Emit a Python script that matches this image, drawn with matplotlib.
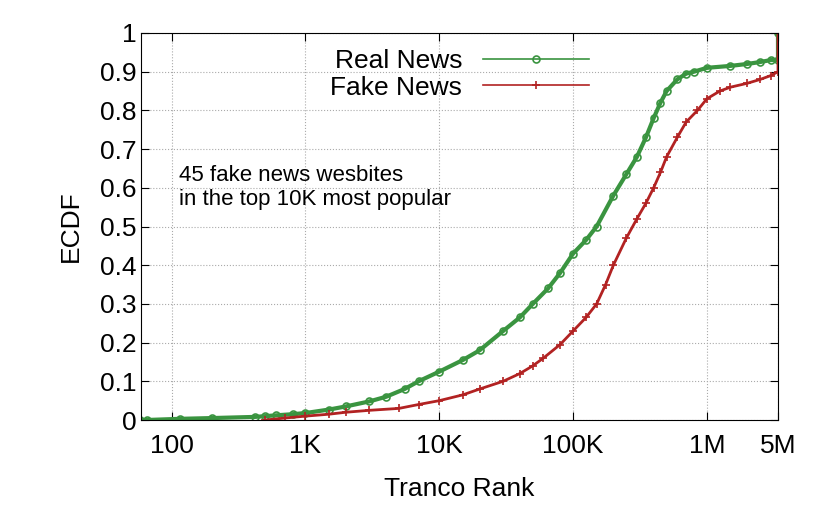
import matplotlib
matplotlib.use("Agg")
import matplotlib.pyplot as plt

plt.rcParams['font.family'] = ['Liberation Sans', 'DejaVu Sans']

real_x = [58, 65, 115, 200, 420, 500, 600, 800, 1000, 1500, 2000, 3000, 4000, 5500, 7000, 10000, 15000, 20000, 30000, 40000, 50000, 65000, 80000, 100000, 125000, 150000, 200000, 250000, 300000, 350000, 400000, 450000, 500000, 600000, 700000, 800000, 1000000, 1500000, 2000000, 2500000, 3000000, 3400000, 3400000]
real_y = [0, 0, 0.003, 0.005, 0.008, 0.01, 0.012, 0.015, 0.018, 0.027, 0.035, 0.048, 0.06, 0.08, 0.1, 0.125, 0.155, 0.18, 0.23, 0.265, 0.3, 0.34, 0.38, 0.43, 0.465, 0.5, 0.58, 0.635, 0.68, 0.73, 0.78, 0.82, 0.85, 0.88, 0.895, 0.9, 0.91, 0.915, 0.92, 0.925, 0.93, 0.93, 1.0]
fake_x = [500, 700, 1000, 1500, 2000, 3000, 5000, 7000, 10000, 15000, 20000, 30000, 40000, 50000, 60000, 80000, 100000, 125000, 150000, 175000, 200000, 250000, 300000, 350000, 400000, 450000, 500000, 600000, 700000, 850000, 1000000, 1250000, 1500000, 2000000, 2500000, 3000000, 3400000, 3400000]
fake_y = [0, 0.005, 0.01, 0.015, 0.02, 0.025, 0.03, 0.04, 0.05, 0.065, 0.08, 0.1, 0.12, 0.14, 0.16, 0.195, 0.23, 0.265, 0.3, 0.35, 0.4, 0.47, 0.52, 0.56, 0.6, 0.64, 0.68, 0.73, 0.77, 0.8, 0.83, 0.85, 0.86, 0.87, 0.88, 0.89, 0.9, 1.0]

green = "#3a9440"
red = "#b22222"

fig = plt.figure(figsize=(8.3, 5.19), dpi=100)
ax = fig.add_axes([141/830, 1-420/519, (778-141)/830, (420-33)/519])
ax.plot(real_x, real_y, color=green, lw=3, marker='o', mfc='none', ms=5, mew=1.2, label="Real News")
ax.plot(fake_x, fake_y, color=red, lw=2, marker='+', ms=6, mew=1.2, label="Fake News")
ax.set_xscale('log')
ax.set_xlim(59, 3.4e6)
ax.set_ylim(0, 1)
ax.set_xticks([100, 1000, 10000, 100000, 1000000, 3.4e6])
ax.set_xticklabels(["100", "1K", "10K", "100K", "1M", "5M"])
ax.xaxis.set_minor_locator(matplotlib.ticker.NullLocator())
ax.set_yticks([i/10 for i in range(11)])
ax.set_yticklabels(["0"] + [f"0.{i}" for i in range(1, 10)] + ["1"])
ax.tick_params(labelsize=19, direction='in', length=6, top=True, right=True)
ax.tick_params(axis='x', pad=10)
ax.grid(True, linestyle=':', color='#aaaaaa', lw=0.8)
ax.set_xlabel("Tranco Rank", fontsize=19, labelpad=14)
ax.set_ylabel("ECDF", fontsize=19, labelpad=12)
leg = ax.legend(loc='upper center', bbox_to_anchor=(0.5, 1.02), frameon=False, fontsize=19,
          markerfirst=False, handlelength=4, labelspacing=0.1)
for h in leg.legend_handles:
    h.set_linewidth(1.2)
ax.text(0.06, 0.66, "45 fake news wesbites\nin the top 10K most popular", transform=ax.transAxes,
        fontsize=16, va='top')
fig.savefig("out.png", dpi=100)
